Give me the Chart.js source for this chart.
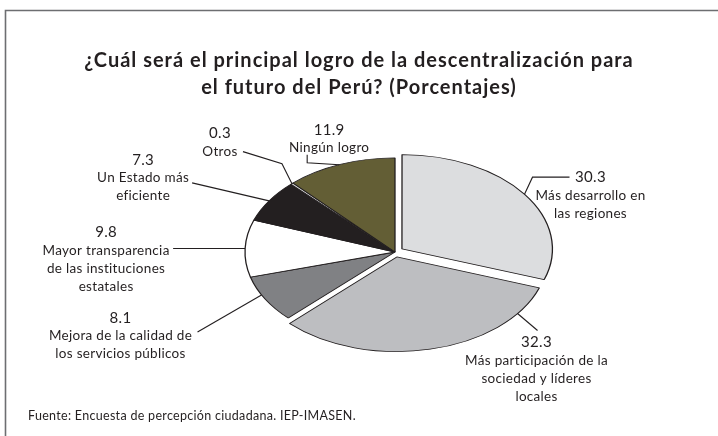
<!DOCTYPE html>
<html>
<head>
<meta charset="utf-8">
<script src="https://cdn.jsdelivr.net/npm/chart.js@4.4.1/dist/chart.umd.min.js"></script>
<style>
  html, body { margin: 0; padding: 0; background: #fff; }
  #chart { display: block; }
</style>
</head>
<body>
<canvas id="chart" width="718" height="436"></canvas>
<script>
// data
const categories = [
  ["Más desarrollo en", "las regiones"],
  ["Más participación de la", "sociedad y líderes", "locales"],
  ["Mejora de la calidad de", "los servicios públicos"],
  ["Mayor transparencia", "de las instituciones", "estatales"],
  ["Un Estado más", "eficiente"],
  ["Otros"],
  ["Ningún logro"]
];
const values = [30.3, 32.3, 8.1, 9.8, 7.3, 0.3, 11.9];
const valueLabels = ["30.3", "32.3", "8.1", "9.8", "7.3", "0.3", "11.9"];

const titleLines = ["¿Cuál será el principal logro de la descentralización para", "el futuro del Perú? (Porcentajes)"];
const sourceText = "Fuente: Encuesta de percepción ciudadana. IEP-IMASEN.";

// styles
const sliceColors = ["#dcdddf", "#bdbec1", "#808184", "#ffffff", "#231f20", "#d8d8d8", "#635e35"];
const sliceOffsets = [9, 9, 0, 0, 0, 0, 0]; // pixels the slice is pulled out
const tilt = 0.627; // vertical squash of the pie
const FONT = "Lato, 'Open Sans', sans-serif";

// label placement: where on the slice the leader starts, the leader bends, and where the text block sits
const labelLayout = [
  { frac: 0.5, path: [[8, -17], [45, -17]], text: [66, -17] },
  { frac: 0.15, path: [[20, 17]], text: [19, 29] },
  { frac: 0.6, path: [[-64, 37]], text: [-141, 23] },
  { frac: 0.5, path: [[-72, 0]], text: [-139, -16] },
  { frac: 0.5, path: [[-77, -18]], text: [-126, -41] },
  { frac: 0.5, path: [[-10, -20], [-49, -32]], text: [-72, -50] },
  { frac: 0.49, path: [[-32, -2], [-32, -10]], text: [-10, -35] }
];

// Chart.js moves an arc by offset/4 * (1 + fix); turn wanted pixels into the option value
function offsetOption(i) {
  const total = values.reduce((s, v) => s + v, 0);
  const circ = values[i] / total * Math.PI * 2;
  const fix = 1 - Math.sin(Math.min(Math.PI, circ));
  return sliceOffsets[i] * 4 / (1 + fix);
}

// squash the pie into an ellipse while the arcs are drawn
const tiltPlugin = {
  id: "tilt",
  beforeDatasetsDraw(chart) {
    const arc = chart.getDatasetMeta(0).data[0];
    const ctx = chart.ctx;
    ctx.save();
    ctx.translate(arc.x, arc.y);
    ctx.scale(1, tilt);
    ctx.translate(-arc.x, -arc.y);
  },
  afterDatasetsDraw(chart) {
    chart.ctx.restore();
  }
};

const decorPlugin = {
  id: "decor",
  afterDraw(chart) {
    const ctx = chart.ctx;
    ctx.save();

    // frame
    ctx.strokeStyle = "#6d6e71";
    ctx.lineWidth = 1.6;
    ctx.beginPath();
    ctx.moveTo(5.5, 436);
    ctx.lineTo(5.5, 10.5);
    ctx.lineTo(718, 10.5);
    ctx.stroke();

    // title
    ctx.fillStyle = "#231f20";
    ctx.textAlign = "center";
    ctx.textBaseline = "middle";
    ctx.font = "bold 20px " + FONT;
    ctx.letterSpacing = "1px";
    titleLines.forEach((t, i) => ctx.fillText(t, 359, 61 + i * 27));
    ctx.letterSpacing = "0.3px";

    // slice labels with leader lines
    const meta = chart.getDatasetMeta(0);
    meta.data.forEach((el, i) => {
      const p = el.getProps(["x", "y", "startAngle", "endAngle", "outerRadius"], true);
      const lay = labelLayout[i];
      const off = sliceOffsets[i];
      const mid = (p.startAngle + p.endAngle) / 2;
      const a = p.startAngle + lay.frac * (p.endAngle - p.startAngle);
      const px = p.x + Math.cos(mid) * off + Math.cos(a) * p.outerRadius;
      const py = p.y + Math.sin(mid) * off + Math.sin(a) * p.outerRadius;
      const ax = px;
      const ay = p.y + (py - p.y) * tilt;

      ctx.strokeStyle = "#231f20";
      ctx.lineWidth = 1.1;
      ctx.beginPath();
      ctx.moveTo(ax, ay);
      lay.path.forEach(d => ctx.lineTo(ax + d[0], ay + d[1]));
      ctx.stroke();

      const tx = ax + lay.text[0];
      const ty = ay + lay.text[1];
      ctx.fillStyle = "#231f20";
      ctx.font = "15px " + FONT;
      ctx.fillText(valueLabels[i], tx, ty);
      ctx.font = "13.5px " + FONT;
      categories[i].forEach((line, j) => {
        ctx.fillText(line, tx, ty + 18 + j * 18);
      });
    });

    // source
    ctx.textAlign = "left";
    ctx.font = "12.5px " + FONT;
    ctx.fillText(sourceText, 28, 416);
    ctx.restore();
  }
};

const ctx = document.getElementById("chart").getContext("2d");
new Chart(ctx, {
  type: "pie",
  data: {
    labels: categories.map(c => c.join(" ")),
    datasets: [{
      data: values,
      backgroundColor: sliceColors,
      borderColor: "#231f20",
      borderWidth: 1.3,
      offset: (c) => offsetOption(c.dataIndex)
    }]
  },
  options: {
    responsive: false,
    animation: false,
    radius: 150,
    layout: { padding: { left: 100, right: 28, top: 100, bottom: 32 } },
    plugins: {
      legend: { display: false },
      tooltip: { enabled: false },
      title: { display: false }
    }
  },
  plugins: [tiltPlugin, decorPlugin]
});
</script>
</body>
</html>
